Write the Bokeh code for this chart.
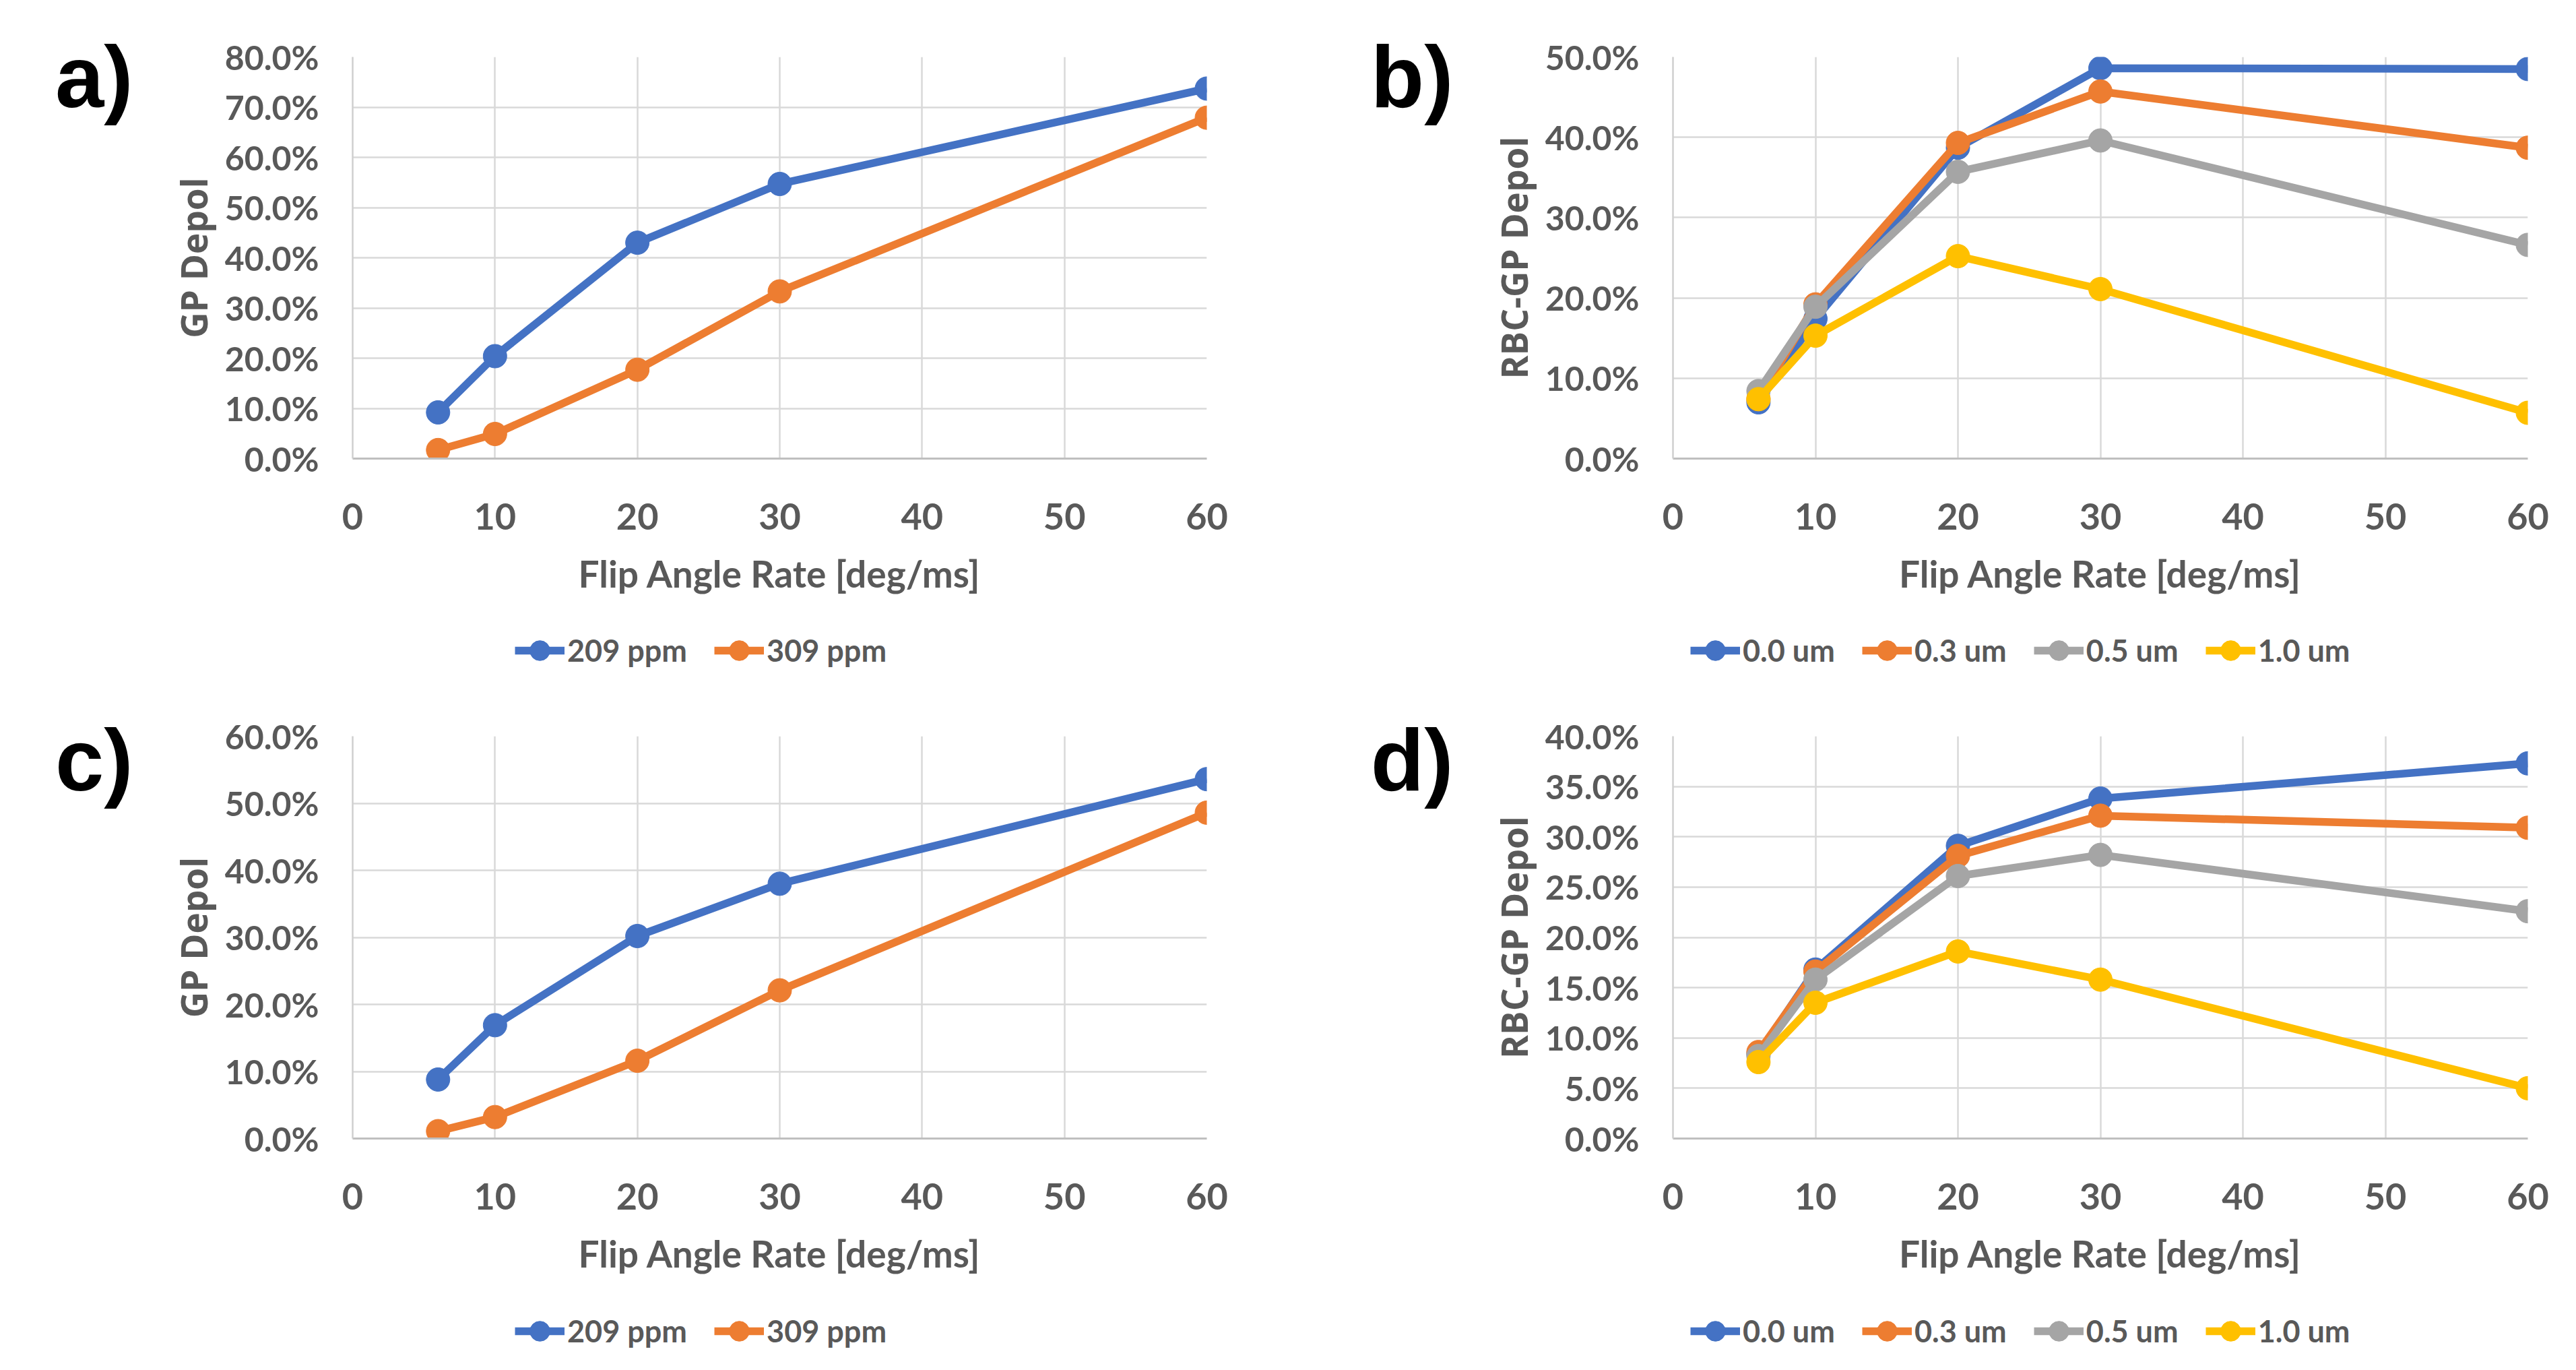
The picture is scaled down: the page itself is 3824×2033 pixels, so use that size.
from bokeh.plotting import figure
from bokeh.models import (Range1d, NumeralTickFormatter, FixedTicker, Legend, LegendItem,
                          LinearAxis)
from bokeh.layouts import column, row
from bokeh.embed import file_html
from bokeh.resources import INLINE

# ---------------- data ----------------
flip_rate = [6, 10, 20, 30, 60]
x_ticks = [0, 10, 20, 30, 40, 50, 60]

# panel a
a_209ppm = [0.092, 0.204, 0.430, 0.547, 0.737]
a_309ppm = [0.017, 0.049, 0.177, 0.333, 0.679]
# panel b
b_00um = [0.070, 0.174, 0.387, 0.486, 0.485]
b_03um = [0.074, 0.192, 0.393, 0.457, 0.387]
b_05um = [0.084, 0.189, 0.357, 0.396, 0.266]
b_10um = [0.074, 0.153, 0.252, 0.211, 0.057]
# panel c
c_209ppm = [0.088, 0.169, 0.302, 0.380, 0.536]
c_309ppm = [0.011, 0.032, 0.116, 0.221, 0.486]
# panel d
d_00um = [0.084, 0.168, 0.291, 0.338, 0.373]
d_03um = [0.086, 0.166, 0.281, 0.321, 0.309]
d_05um = [0.082, 0.158, 0.261, 0.282, 0.226]
d_10um = [0.076, 0.135, 0.186, 0.158, 0.050]

ppm_labels = ["209 ppm", "309 ppm"]
um_labels = ["0.0 um", "0.3 um", "0.5 um", "1.0 um"]
colors = ["#4472C4", "#ED7D31", "#A5A5A5", "#FFC000"]

a_y_ticks = [0.0, 0.1, 0.2, 0.3, 0.4, 0.5, 0.6, 0.7, 0.8]
b_y_ticks = [0.0, 0.1, 0.2, 0.3, 0.4, 0.5]
c_y_ticks = [0.0, 0.1, 0.2, 0.3, 0.4, 0.5, 0.6]
d_y_ticks = [0.0, 0.05, 0.10, 0.15, 0.20, 0.25, 0.30, 0.35, 0.40]

TXT = "#595959"
W = 1904
LINE_W = 11.5
MARK = 35


def make_panel(letter, letter_frac, series, y_ticks, ylabel, height,
               b_left, b_right, b_top, b_bottom):
    ymax = y_ticks[-1]
    p = figure(width=W, height=height, output_backend="svg", toolbar_location=None,
               x_range=Range1d(0, 60), y_range=Range1d(0, ymax),
               min_border_left=b_left, min_border_right=b_right,
               min_border_top=b_top, min_border_bottom=b_bottom)
    p.outline_line_color = None
    p.background_fill_color = "white"
    p.border_fill_color = "white"

    p.xaxis.ticker = FixedTicker(ticks=x_ticks)
    p.yaxis.ticker = FixedTicker(ticks=y_ticks)
    p.yaxis.formatter = NumeralTickFormatter(format="0.0%")
    p.xaxis.formatter = NumeralTickFormatter(format="0")

    for ax in (p.xaxis[0], p.yaxis[0]):
        ax.major_tick_in = 0
        ax.major_tick_out = 0
        ax.minor_tick_in = 0
        ax.minor_tick_out = 0
        ax.major_label_text_font = "Lato"
        ax.major_label_text_font_style = "bold"
        ax.major_label_text_color = TXT
        ax.axis_label_text_color = TXT
        ax.axis_label_text_font_style = "bold"

    p.xaxis.major_label_text_font_size = "54px"
    p.yaxis.major_label_text_font_size = "50px"
    p.xaxis.axis_line_color = "#BFBFBF"
    p.xaxis.axis_line_width = 3
    p.yaxis.axis_line_color = "#CFCFCF"
    p.yaxis.axis_line_width = 2.5

    p.xaxis.axis_label = "Flip Angle Rate [deg/ms]"
    p.xaxis.axis_label_text_font = "Lato"
    p.xaxis.axis_label_text_font_size = "55px"
    p.xaxis.major_label_standoff = 66
    p.xaxis.axis_label_standoff = 29

    p.yaxis.axis_label = ylabel
    p.yaxis.axis_label_text_font = "Open Sans"
    p.yaxis.axis_label_text_font_size = "53px"
    p.yaxis.major_label_standoff = 50
    p.yaxis.axis_label_standoff = 7

    p.xgrid.grid_line_color = "#D9D9D9"
    p.ygrid.grid_line_color = "#D9D9D9"
    p.xgrid.grid_line_width = 2.5
    p.ygrid.grid_line_width = 2.5

    for ys, col in zip(series, colors):
        p.line(flip_rate, ys, line_color=col, line_width=LINE_W, line_join="round")
        p.scatter(flip_rate, ys, size=MARK, fill_color=col, line_color=col, line_width=1)

    # panel letter, drawn as the single label of an extra, line-less left axis
    t = round(ymax * letter_frac, 4)
    lax = LinearAxis(ticker=FixedTicker(ticks=[t], minor_ticks=[]),
                     major_label_overrides={t: letter},
                     axis_line_color=None, major_tick_in=0, major_tick_out=0,
                     minor_tick_in=0, minor_tick_out=0,
                     major_label_standoff=50,
                     major_label_text_font="Liberation Sans",
                     major_label_text_font_style="bold",
                     major_label_text_font_size="130px",
                     major_label_text_color="black")
    p.add_layout(lax, "left")
    return p


def make_legend(series, labels, legend_x):
    """A strip below a panel that holds only its legend (keys use hidden copies
    of the panel's series so that the keys carry the same styling)."""
    q = figure(width=W, height=90, output_backend="svg", toolbar_location=None,
               x_axis_type=None, y_axis_type=None, min_border=0,
               x_range=Range1d(0, 60), y_range=Range1d(0, 1))
    q.outline_line_color = None
    q.background_fill_color = "white"
    q.border_fill_color = "white"
    items = []
    for ys, lab, col in zip(series, labels, colors):
        lr = q.line(flip_rate, ys, line_color=col, line_width=LINE_W, visible=False)
        sr = q.scatter(flip_rate, ys, size=MARK, fill_color=col, line_color=col,
                       visible=False)
        items.append(LegendItem(label=lab, renderers=[lr, sr]))
    leg = Legend(items=items, orientation="horizontal", location=(legend_x, 3),
                 glyph_width=74, glyph_height=80, label_standoff=4, spacing=40,
                 padding=0, margin=0, border_line_color=None,
                 background_fill_alpha=0,
                 label_text_font="Lato", label_text_font_style="bold",
                 label_text_font_size="45px", label_text_color=TXT)
    q.add_layout(leg, "center")
    return q


ab = [a_209ppm, a_309ppm]
bb = [b_00um, b_03um, b_05um, b_10um]
cb = [c_209ppm, c_309ppm]
db = [d_00um, d_03um, d_05um, d_10um]

pa = make_panel("a)", 0.951, ab, a_y_ticks, "GP Depol", 918, 523, 113, 84, 238)
pb = make_panel("b)", 0.951, bb, b_y_ticks, "RBC-GP Depol", 918, 579, 56, 84, 238)
pc = make_panel("c)", 0.940, cb, c_y_ticks, "GP Depol", 920, 523, 113, 84, 239)
pd = make_panel("d)", 0.940, db, d_y_ticks, "RBC-GP Depol", 920, 579, 56, 84, 239)

la = make_legend(ab, ppm_labels, 764)
lb = make_legend(bb, um_labels, 605)
lc = make_legend(cb, ppm_labels, 764)
ld = make_legend(db, um_labels, 605)

layout = column(row(pa, pb), row(la, lb), row(pc, pd), row(lc, ld))
open("out.html", "w").write(file_html(layout, INLINE))
